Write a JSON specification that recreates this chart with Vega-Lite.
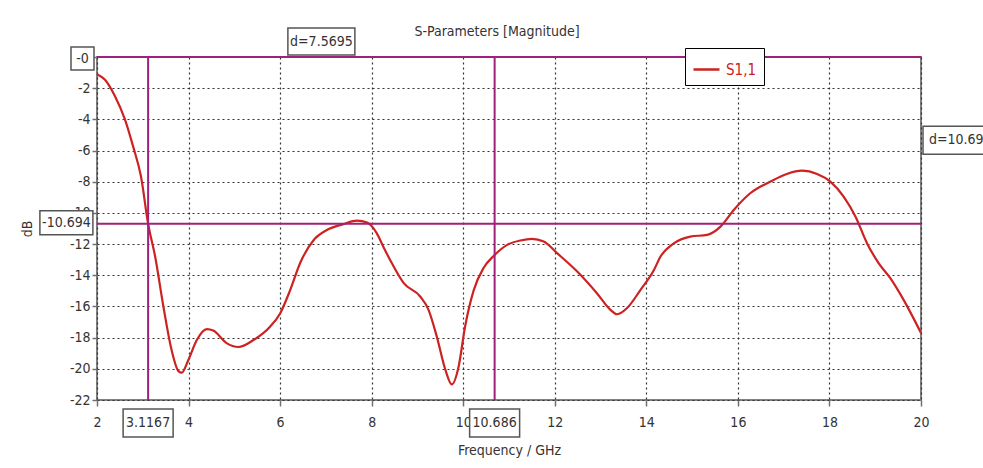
{
  "$schema": "https://vega.github.io/schema/vega-lite/v6.json",
  "autosize": {"type": "none"},
  "width": 824,
  "height": 343,
  "padding": {"left": 97, "top": 57, "right": 62, "bottom": 68},
  "background": "white",
  "title": {
    "text": "S-Parameters [Magnitude]",
    "frame": "group",
    "anchor": "middle",
    "dx": -12,
    "dy": 28,
    "offset": 14,
    "fontSize": 14,
    "fontWeight": "normal",
    "font": "DejaVu Sans Condensed, sans-serif",
    "color": "#333333"
  },
  "config": {
    "view": {"stroke": "#808080", "strokeWidth": 2},
    "axis": {
      "labelFont": "DejaVu Sans Condensed, sans-serif",
      "titleFont": "DejaVu Sans Condensed, sans-serif",
      "labelFontSize": 14,
      "titleFontSize": 14,
      "titleFontWeight": "normal",
      "labelColor": "#333333",
      "titleColor": "#333333",
      "labelOverlap": false,
      "domain": false,
      "tickColor": "#707070",
      "tickWidth": 1.5,
      "gridColor": "#333333",
      "gridDash": [2, 3],
      "gridWidth": 1.2,
      "gridOpacity": 1
    },
    "legend": {
      "labelFont": "DejaVu Sans Condensed, sans-serif"
    }
  },
  "datasets": {
    "s11": [
      {"f": 2.0, "s11": -1.1},
      {"f": 2.17, "s11": -1.45},
      {"f": 2.39, "s11": -2.5},
      {"f": 2.61, "s11": -4.0},
      {"f": 2.79, "s11": -5.75},
      {"f": 2.96, "s11": -7.65},
      {"f": 3.1167, "s11": -10.694},
      {"f": 3.27, "s11": -12.8},
      {"f": 3.45, "s11": -16.0},
      {"f": 3.63, "s11": -18.8},
      {"f": 3.78, "s11": -20.15},
      {"f": 3.85, "s11": -20.25},
      {"f": 4.0, "s11": -19.4},
      {"f": 4.18, "s11": -18.15},
      {"f": 4.4, "s11": -17.45},
      {"f": 4.54, "s11": -17.55},
      {"f": 4.83, "s11": -18.35},
      {"f": 5.09, "s11": -18.6},
      {"f": 5.42, "s11": -18.15},
      {"f": 5.78, "s11": -17.3},
      {"f": 6.0, "s11": -16.45},
      {"f": 6.22, "s11": -14.95},
      {"f": 6.44, "s11": -13.2},
      {"f": 6.73, "s11": -11.75},
      {"f": 7.02, "s11": -11.1},
      {"f": 7.38, "s11": -10.72},
      {"f": 7.68, "s11": -10.5},
      {"f": 7.9, "s11": -10.62},
      {"f": 8.11, "s11": -11.3},
      {"f": 8.26, "s11": -12.2},
      {"f": 8.4, "s11": -13.0},
      {"f": 8.7, "s11": -14.5},
      {"f": 9.06, "s11": -15.36},
      {"f": 9.24, "s11": -16.2},
      {"f": 9.42, "s11": -17.9},
      {"f": 9.61, "s11": -20.06},
      {"f": 9.75, "s11": -21.0},
      {"f": 9.9, "s11": -19.85},
      {"f": 10.04, "s11": -17.3},
      {"f": 10.23, "s11": -14.95},
      {"f": 10.44, "s11": -13.55},
      {"f": 10.686, "s11": -12.7},
      {"f": 10.96, "s11": -12.05},
      {"f": 11.25, "s11": -11.77},
      {"f": 11.5, "s11": -11.67},
      {"f": 11.76, "s11": -11.84},
      {"f": 12.05, "s11": -12.58},
      {"f": 12.49, "s11": -13.76},
      {"f": 12.92, "s11": -15.15},
      {"f": 13.21, "s11": -16.2},
      {"f": 13.36, "s11": -16.5},
      {"f": 13.58, "s11": -16.1},
      {"f": 13.87, "s11": -14.95},
      {"f": 14.16, "s11": -13.7},
      {"f": 14.31, "s11": -12.8},
      {"f": 14.6, "s11": -11.95},
      {"f": 14.96, "s11": -11.52},
      {"f": 15.33, "s11": -11.41},
      {"f": 15.62, "s11": -10.88},
      {"f": 15.91, "s11": -9.81},
      {"f": 16.27, "s11": -8.74},
      {"f": 16.71, "s11": -7.99},
      {"f": 17.07, "s11": -7.5},
      {"f": 17.4, "s11": -7.29},
      {"f": 17.73, "s11": -7.5},
      {"f": 18.02, "s11": -7.99},
      {"f": 18.31, "s11": -8.95},
      {"f": 18.57, "s11": -10.24},
      {"f": 18.82, "s11": -11.94},
      {"f": 19.07, "s11": -13.2},
      {"f": 19.33, "s11": -14.19},
      {"f": 19.62, "s11": -15.58},
      {"f": 20.0, "s11": -17.7}
    ],
    "xmarkers": [
      {"f": 3.1167, "label": "3.1167"},
      {"f": 10.686, "label": "10.686"}
    ],
    "ymarkers": [
      {"db": 0, "label": "-0"},
      {"db": -10.694, "label": "-10.694"}
    ],
    "xdelta": [
      {"f": 6.9014, "label": "d=7.5695"}
    ],
    "ydelta": [
      {"db": -5.347, "label": "d=10.694"}
    ]
  },
  "layer": [
    {
      "data": {"name": "s11"},
      "mark": {"type": "line", "interpolate": "monotone", "strokeWidth": 2.2, "clip": true},
      "encoding": {
        "x": {
          "field": "f",
          "type": "quantitative",
          "scale": {"domain": [2, 20], "nice": false, "zero": false},
          "axis": {
            "title": "Frequency / GHz",
            "values": [2, 4, 6, 8, 10, 12, 14, 16, 18, 20],
            "tickCount": 20,
            "tickSize": 6,
            "labelPadding": 9,
            "titlePadding": 14,
            "labelFlush": false,
            "labelOverlap": false
          }
        },
        "y": {
          "field": "s11",
          "type": "quantitative",
          "scale": {"domain": [-22, 0], "nice": false, "zero": false},
          "axis": {
            "title": "dB",
            "values": [-22, -20, -18, -16, -14, -12, -10, -8, -6, -4, -2, 0],
            "tickCount": 20,
            "labelExpr": "datum.value == 0 ? '' : '' + datum.value",
            "tickSize": 5,
            "labelPadding": 2,
            "titleX": -63,
            "labelFlush": false,
            "labelOverlap": false,
            "labelBound": false
          }
        },
        "color": {
          "datum": "S1,1",
          "type": "nominal",
          "scale": {"range": ["#cc2222"]},
          "legend": {
            "title": null,
            "orient": "none",
            "legendX": 588,
            "legendY": -9,
            "fillColor": "white",
            "strokeColor": "#000000",
            "padding": 7,
            "symbolType": "stroke",
            "symbolSize": 676,
            "symbolStrokeWidth": 2.5,
            "labelColor": "#cc2222",
            "labelFontSize": 15,
            "labelOffset": 5
          }
        }
      }
    },
    {
      "data": {"name": "xmarkers"},
      "mark": {"type": "rule", "color": "#a0207a", "strokeWidth": 2},
      "encoding": {"x": {"field": "f", "type": "quantitative"}}
    },
    {
      "data": {"name": "ymarkers"},
      "mark": {"type": "rule", "color": "#a0207a", "strokeWidth": 2},
      "encoding": {"y": {"field": "db", "type": "quantitative"}}
    },
    {
      "data": {"name": "xmarkers"},
      "mark": {"type": "point", "shape": "M-1,-0.56H1V0.56H-1Z", "size": 2500, "filled": true, "fill": "white", "stroke": "#555555", "strokeWidth": 1.5, "opacity": 1, "yOffset": 23},
      "encoding": {"x": {"field": "f", "type": "quantitative"}, "y": {"datum": -22}}
    },
    {
      "data": {"name": "xmarkers"},
      "mark": {"type": "text", "font": "DejaVu Sans Condensed, sans-serif", "fontSize": 14, "color": "#333333", "align": "center", "baseline": "middle", "yOffset": 23},
      "encoding": {"x": {"field": "f", "type": "quantitative"}, "y": {"datum": -22}, "text": {"field": "label"}}
    },
    {
      "data": {"name": "ymarkers"},
      "transform": [{"filter": "datum.db == 0"}],
      "mark": {"type": "point", "shape": "M-1,-1H1V1H-1Z", "size": 529, "filled": true, "fill": "white", "stroke": "#555555", "strokeWidth": 1.5, "opacity": 1, "xOffset": -14.5, "yOffset": 1.5},
      "encoding": {"x": {"datum": 2}, "y": {"field": "db", "type": "quantitative"}}
    },
    {
      "data": {"name": "ymarkers"},
      "transform": [{"filter": "datum.db == 0"}],
      "mark": {"type": "text", "font": "DejaVu Sans Condensed, sans-serif", "fontSize": 14, "color": "#333333", "align": "center", "baseline": "middle", "xOffset": -14.5, "yOffset": 1.5},
      "encoding": {"x": {"datum": 2}, "y": {"field": "db", "type": "quantitative"}, "text": {"field": "label"}}
    },
    {
      "data": {"name": "ymarkers"},
      "transform": [{"filter": "datum.db != 0"}],
      "mark": {"type": "point", "shape": "M-1,-0.453H1V0.453H-1Z", "size": 2809, "filled": true, "fill": "white", "stroke": "#555555", "strokeWidth": 1.5, "opacity": 1, "xOffset": -30.6, "yOffset": -1},
      "encoding": {"x": {"datum": 2}, "y": {"field": "db", "type": "quantitative"}}
    },
    {
      "data": {"name": "ymarkers"},
      "transform": [{"filter": "datum.db != 0"}],
      "mark": {"type": "text", "font": "DejaVu Sans Condensed, sans-serif", "fontSize": 14, "color": "#333333", "align": "center", "baseline": "middle", "xOffset": -30.6, "yOffset": -1},
      "encoding": {"x": {"datum": 2}, "y": {"field": "db", "type": "quantitative"}, "text": {"field": "label"}}
    },
    {
      "data": {"name": "xdelta"},
      "mark": {"type": "point", "shape": "M-1,-0.403H1V0.403H-1Z", "size": 4489, "filled": true, "fill": "white", "stroke": "#555555", "strokeWidth": 1.5, "opacity": 1, "yOffset": -15.5},
      "encoding": {"x": {"field": "f", "type": "quantitative"}, "y": {"datum": 0}}
    },
    {
      "data": {"name": "xdelta"},
      "mark": {"type": "text", "font": "DejaVu Sans Condensed, sans-serif", "fontSize": 14, "color": "#333333", "align": "center", "baseline": "middle", "yOffset": -15.5},
      "encoding": {"x": {"field": "f", "type": "quantitative"}, "y": {"datum": 0}, "text": {"field": "label"}}
    },
    {
      "data": {"name": "ydelta"},
      "mark": {"type": "point", "shape": "M-1,-0.424H1V0.424H-1Z", "size": 4356, "filled": true, "fill": "white", "stroke": "#555555", "strokeWidth": 1.5, "opacity": 1, "xOffset": 35},
      "encoding": {"x": {"datum": 20}, "y": {"field": "db", "type": "quantitative"}}
    },
    {
      "data": {"name": "ydelta"},
      "mark": {"type": "text", "font": "DejaVu Sans Condensed, sans-serif", "fontSize": 14, "color": "#333333", "align": "left", "baseline": "middle", "xOffset": 8},
      "encoding": {"x": {"datum": 20}, "y": {"field": "db", "type": "quantitative"}, "text": {"field": "label"}}
    }
  ]
}
